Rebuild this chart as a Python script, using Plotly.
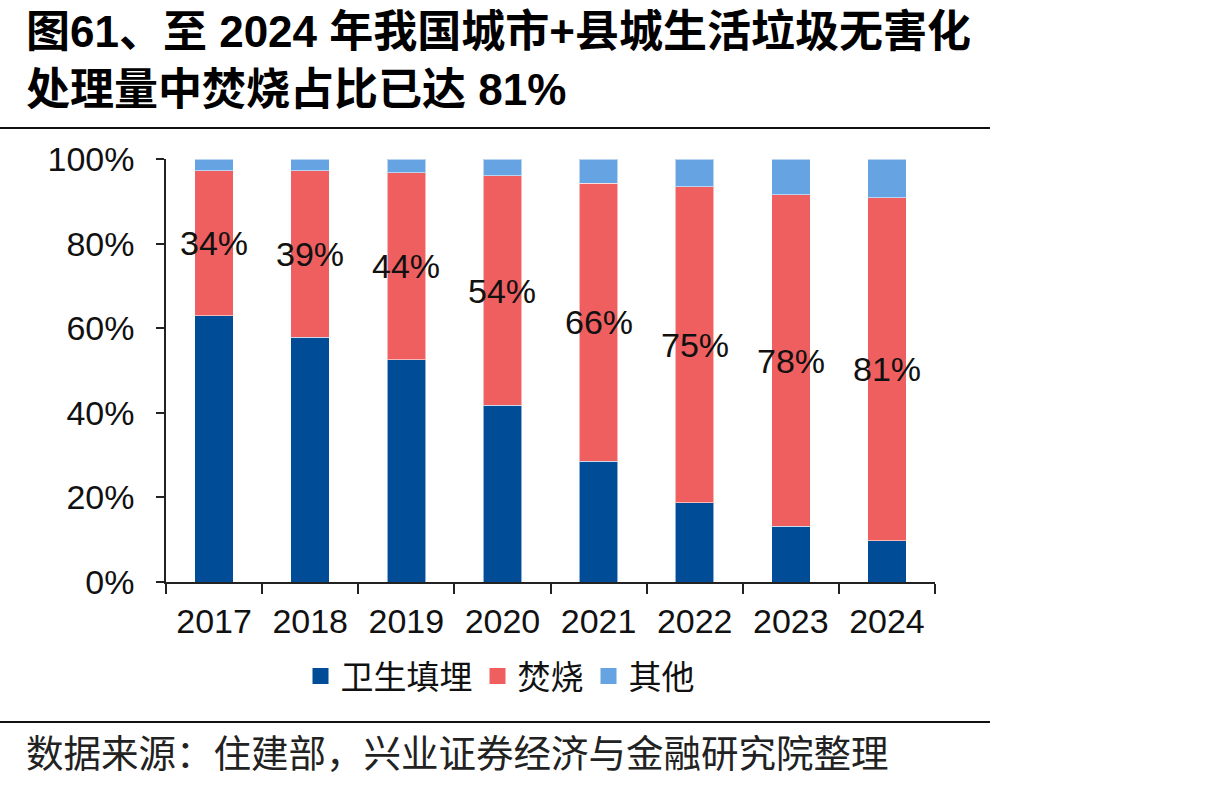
import plotly.graph_objects as go

years = ["2017", "2018", "2019", "2020", "2021", "2022", "2023", "2024"]
landfill = [62.9, 57.9, 52.5, 41.8, 28.6, 18.7, 13.2, 9.7]
incineration = [34.3, 39.3, 44.2, 54.2, 65.7, 74.7, 78.3, 81.1]
other = [round(100 - a - b, 1) for a, b in zip(landfill, incineration)]
series_names = ["卫生填埋", "焚烧", "其他"]
colors = ["#004C97", "#EF5F60", "#66A3E3"]
y_ticks = [0, 20, 40, 60, 80, 100]
y_tick_text = [f"{v}%" for v in y_ticks]

title_l1 = "图61、至 2024 年我国城市+县城生活垃圾无害化"
title_l2 = "处理量中焚烧占比已达 81%"
source = "数据来源：住建部，兴业证券经济与金融研究院整理"

FONT = "Liberation Sans, Arial, Noto Sans CJK SC, sans-serif"
CJK = "Liberation Sans, Noto Sans CJK SC, sans-serif"

# plot area in pixels
W, H = 1205, 788
L, R, T, B = 166, 935, 159, 582
pw, ph = R - L, B - T


def px_x(x):
    return (x - L) / pw


def px_y(y):
    return (B - y) / ph


fig = go.Figure()
for name, vals, c in zip(series_names, [landfill, incineration, other], colors):
    fig.add_trace(go.Bar(
        x=years, y=vals, name=name, showlegend=False,
        marker=dict(color=c, line=dict(color="rgba(255,255,255,0.55)", width=1)),
        hoverinfo="skip",
    ))
# legend markers
for name, c in zip(series_names, colors):
    fig.add_trace(go.Scatter(
        x=[years[0]], y=[None], mode="markers", name=name,
        marker=dict(symbol="square", size=16, color=c),
    ))

annotations = []
for i, (a, b) in enumerate(zip(landfill, incineration)):
    annotations.append(dict(
        x=i, y=a + b / 2, xref="x", yref="y", text=f"{round(b)}%",
        showarrow=False, font=dict(family=FONT, size=34, color="#111111"),
    ))

annotations.append(dict(
    x=px_x(24), y=px_y(31), xref="paper", yref="paper", xanchor="left", yanchor="middle",
    text=f"<b>{title_l1}</b>", showarrow=False,
    font=dict(family=CJK, size=44, color="#000000"),
))
annotations.append(dict(
    x=px_x(24), y=px_y(89), xref="paper", yref="paper", xanchor="left", yanchor="middle",
    text=f"<b>{title_l2}</b>", showarrow=False,
    font=dict(family=CJK, size=44, color="#000000"),
))
annotations.append(dict(
    x=px_x(24), y=px_y(754), xref="paper", yref="paper", xanchor="left", yanchor="middle",
    text=source, showarrow=False,
    font=dict(family=CJK, size=37.5, color="#222222"),
))

shapes = [
    dict(type="line", xref="paper", yref="paper", x0=px_x(0), x1=px_x(990),
         y0=px_y(128), y1=px_y(128), line=dict(color="#111111", width=2)),
    dict(type="line", xref="paper", yref="paper", x0=px_x(0), x1=px_x(990),
         y0=px_y(722), y1=px_y(722), line=dict(color="#111111", width=2)),
]

fig.update_layout(
    width=W, height=H,
    margin=dict(l=L, r=W - R, t=T, b=H - B, autoexpand=False),
    barmode="stack", bargap=0.6,
    plot_bgcolor="white", paper_bgcolor="white",
    font=dict(family=FONT, size=34, color="#111111"),
    annotations=annotations, shapes=shapes,
    showlegend=True,
    legend=dict(
        orientation="h", x=px_x(500), xanchor="center", y=px_y(676), yanchor="middle",
        font=dict(family=CJK, size=33, color="#111111"),
        itemwidth=30, traceorder="normal", bgcolor="rgba(0,0,0,0)",
    ),
    xaxis=dict(
        type="category", categoryorder="array", categoryarray=years,
        range=[-0.5, len(years) - 0.5],
        showline=True, linecolor="#222222", linewidth=1.5,
        ticks="outside", ticklen=10, tickcolor="#222222", tickwidth=1.5,
        tickson="boundaries", showgrid=False, zeroline=False, tickangle=0,
        ticklabelstandoff=8,
        tickfont=dict(family=FONT, size=34, color="#111111"),
    ),
    yaxis=dict(
        range=[0, 100], tickvals=y_ticks, ticktext=y_tick_text,
        showline=True, linecolor="#222222", linewidth=1.5,
        ticks="outside", ticklen=8, tickcolor="#222222", tickwidth=1.5,
        showgrid=False, zeroline=False, ticklabelstandoff=15,
        tickfont=dict(family=FONT, size=34, color="#111111"),
    ),
)

fig.write_html("out.html")
